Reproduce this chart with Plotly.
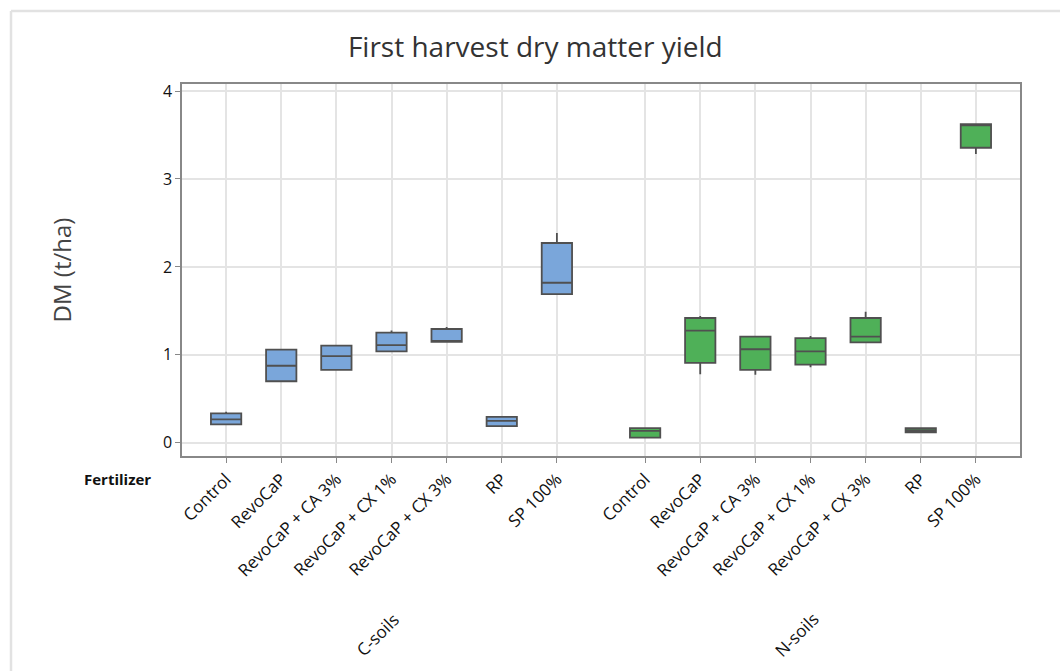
import plotly.graph_objects as go

# Fertilizer treatments (same set for both soil groups)
fertilizers = ["Control", "RevoCaP", "RevoCaP + CA 3%", "RevoCaP + CX 1%",
               "RevoCaP + CX 3%", "RP", "SP 100%"]

# Box statistics for dry matter yield (t/ha), C-soils
c_min = [0.21, 0.70, 0.83, 1.04, 1.147, 0.19, 1.69]
c_q1 = [0.21, 0.70, 0.83, 1.04, 1.147, 0.19, 1.69]
c_med = [0.266, 0.876, 0.985, 1.11, 1.16, 0.25, 1.82]
c_q3 = [0.334, 1.06, 1.106, 1.253, 1.294, 0.295, 2.272]
c_max = [0.353, 1.06, 1.106, 1.276, 1.317, 0.295, 2.385]

# Box statistics for dry matter yield (t/ha), N-soils
n_min = [0.058, 0.78, 0.775, 0.86, 1.143, 0.12, 3.283]
n_q1 = [0.058, 0.91, 0.83, 0.89, 1.143, 0.12, 3.355]
n_med = [0.136, 1.275, 1.064, 1.04, 1.208, 0.143, 3.61]
n_q3 = [0.167, 1.419, 1.208, 1.19, 1.419, 0.167, 3.623]
n_max = [0.167, 1.442, 1.208, 1.215, 1.49, 0.167, 3.623]

group_names = ["C-soils", "N-soils"]
group_offset = [0.0, 7.6]
y_ticks = [0, 1, 2, 3, 4]

BLUE = "#7AA6DA"
GREEN = "#4FB058"
OUTLINE = "#505050"
FONT = "Open Sans, Noto Sans, sans-serif"

fig = go.Figure()

stats = [
    (c_min, c_q1, c_med, c_q3, c_max, BLUE),
    (n_min, n_q1, n_med, n_q3, n_max, GREEN),
]
tick_vals, tick_text = [], []
for (lo, q1, med, q3, hi, color), off, gname in zip(stats, group_offset, group_names):
    xs = [off + i for i in range(len(fertilizers))]
    tick_vals += xs
    tick_text += fertilizers
    fig.add_trace(go.Box(
        x=xs, lowerfence=lo, q1=q1, median=med, q3=q3, upperfence=hi,
        name=gname, width=0.55, fillcolor=color,
        line=dict(color=OUTLINE, width=1.8), whiskerwidth=0,
        boxpoints=False, showlegend=False, hoverinfo="skip",
    ))

x_min, x_max = -0.8, group_offset[1] + 6 + 0.8

fig.update_layout(
    width=1060, height=671,
    margin=dict(l=182, r=40, t=84, b=215),
    paper_bgcolor="white", plot_bgcolor="white",
    font=dict(family=FONT, color="#222222"),
    title=dict(text="First harvest dry matter yield", x=0.505, xanchor="center",
               y=0.93, yanchor="middle",
               font=dict(size=28, color="#333333", family=FONT)),
    showlegend=False,
)

fig.update_xaxes(
    range=[x_min, x_max], tickmode="array", tickvals=tick_vals, ticktext=tick_text,
    tickangle=-45, tickfont=dict(size=17, color="#111111"),
    showgrid=True, gridcolor="#E4E4E4", gridwidth=1.5,
    ticks="outside", ticklen=5, tickcolor="#888888",
    showline=True, linecolor="#888888", linewidth=1.5, mirror=True,
    zeroline=False,
)
fig.update_yaxes(
    range=[-0.15, 4.08], tickmode="array", tickvals=y_ticks,
    tickfont=dict(size=16, color="#111111"),
    showgrid=True, gridcolor="#E4E4E4", gridwidth=1.5,
    ticks="outside", ticklen=5, tickcolor="#888888",
    showline=True, linecolor="#888888", linewidth=1.5, mirror=True,
    zeroline=False,
    title=dict(text="DM (t/ha)", font=dict(size=24, color="#444444"), standoff=84),
)

# Row label for the fertilizer tick labels
fig.add_annotation(
    text="<b>Fertilizer</b>", xref="paper", yref="paper", x=-0.035, y=-0.062,
    xanchor="right", yanchor="middle", showarrow=False,
    font=dict(size=15, color="#111111"),
)

# Soil group labels under each block of treatments
for off, gname in zip(group_offset, group_names):
    fig.add_annotation(
        text=gname, xref="x", yref="paper", x=off + 2.75, y=-0.48,
        xanchor="center", yanchor="middle", textangle=-45, showarrow=False,
        font=dict(size=17, color="#111111"),
    )

# Light frame lines along the left and top of the page
frame_x = -171 / 838
frame_y = 1 + 73 / 372
fig.add_shape(
    type="line", xref="paper", yref="paper",
    x0=frame_x, x1=frame_x, y0=-0.6, y1=frame_y,
    line=dict(color="#E2E2E2", width=2.5),
)
fig.add_shape(
    type="line", xref="paper", yref="paper",
    x0=frame_x, x1=1.1, y0=frame_y, y1=frame_y,
    line=dict(color="#E2E2E2", width=2.5),
)

fig.write_html("out.html")
